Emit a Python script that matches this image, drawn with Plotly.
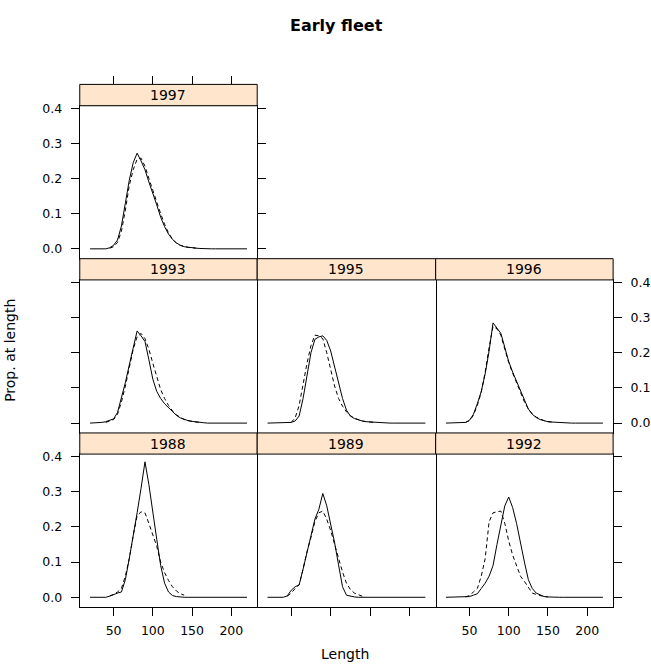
import plotly.graph_objects as go

# ---------------- data ----------------
length = [20, 25, 30, 35, 40, 45, 50, 55, 60, 65, 70, 75, 80, 85, 90, 95, 100, 105, 110, 115,
          120, 125, 130, 135, 140, 145, 150, 155, 160, 165, 170, 175, 180, 185, 190, 195, 200,
          205, 210, 215, 220]

panel_years = ["1997", "1993", "1995", "1996", "1988", "1989", "1992"]

obs_1997 = [0, 0, 0, 0, 0, 0.003, 0.01, 0.025, 0.065, 0.13, 0.195, 0.245, 0.272, 0.25, 0.225,
            0.19, 0.16, 0.125, 0.09, 0.063, 0.042, 0.027, 0.017, 0.01, 0.006, 0.004, 0.003,
            0.002, 0.001, 0, 0, 0, 0, 0, 0, 0, 0, 0, 0, 0, 0]
fit_1997 = [None, None, None, None, None, 0.002, 0.006, 0.018, 0.05, 0.11, 0.18, 0.225, 0.255,
            0.258, 0.235, 0.2, 0.165, 0.13, 0.1, 0.07, 0.045, 0.028, 0.016, 0.01, 0.006, 0.004,
            0.003, 0.002, None, None, None, None, None, None, None, None, None, None, None,
            None, None]

obs_1993 = [0, 0, 0.001, 0.002, 0.004, 0.007, 0.012, 0.03, 0.07, 0.115, 0.165, 0.215, 0.262,
            0.248, 0.232, 0.18, 0.125, 0.09, 0.07, 0.055, 0.043, 0.032, 0.022, 0.015, 0.01,
            0.007, 0.005, 0.003, 0.002, 0.001, 0, 0, 0, 0, 0, 0, 0, 0, 0, 0, 0]
fit_1993 = [None, None, None, None, 0.002, 0.005, 0.01, 0.025, 0.06, 0.105, 0.16, 0.21, 0.245,
            0.255, 0.24, 0.21, 0.17, 0.13, 0.095, 0.07, 0.05, 0.035, 0.024, 0.016, 0.01, 0.007,
            0.004, 0.003, 0.002, None, None, None, None, None, None, None, None, None, None,
            None, None]

obs_1995 = [0, 0, 0, 0, 0, 0, 0.002, 0.006, 0.02, 0.07, 0.14, 0.2, 0.238, 0.245, 0.248, 0.235,
            0.205, 0.16, 0.11, 0.07, 0.037, 0.02, 0.013, 0.009, 0.006, 0.004, 0.003, 0.002,
            0.001, 0, 0, 0, 0, 0, 0, 0, 0, 0, 0, 0, 0]
fit_1995 = [None, None, None, None, None, None, 0.002, 0.015, 0.05, 0.115, 0.17, 0.22, 0.25,
            0.248, 0.24, 0.2, 0.15, 0.105, 0.07, 0.048, 0.032, 0.021, 0.014, 0.009, 0.006,
            0.004, 0.003, 0.002, None, None, None, None, None, None, None, None, None, None,
            None, None, None]

obs_1996 = [0, 0, 0, 0, 0, 0.002, 0.008, 0.025, 0.055, 0.09, 0.14, 0.205, 0.285, 0.27, 0.255,
            0.215, 0.175, 0.145, 0.118, 0.09, 0.062, 0.04, 0.025, 0.016, 0.01, 0.006, 0.004,
            0.003, 0.002, 0.001, 0, 0, 0, 0, 0, 0, 0, 0, 0, 0, 0]
fit_1996 = [None, None, None, None, None, 0.002, 0.007, 0.022, 0.05, 0.088, 0.145, 0.215, 0.275,
            0.268, 0.25, 0.21, 0.172, 0.142, 0.115, 0.088, 0.06, 0.04, 0.026, 0.017, 0.011,
            0.007, 0.004, 0.003, None, None, None, None, None, None, None, None, None, None,
            None, None, None]

obs_1988 = [0, 0, 0, 0, 0, 0.003, 0.008, 0.012, 0.015, 0.05, 0.11, 0.17, 0.24, 0.31, 0.385,
            0.32, 0.238, 0.165, 0.09, 0.04, 0.015, 0.005, 0.002, 0, 0, 0, 0, 0, 0, 0, 0, 0, 0,
            0, 0, 0, 0, 0, 0, 0, 0]
fit_1988 = [None, None, None, None, None, 0.004, 0.008, 0.015, 0.025, 0.06, 0.11, 0.175, 0.232,
            0.243, 0.24, 0.21, 0.18, 0.145, 0.1, 0.07, 0.048, 0.03, 0.018, 0.01, 0.006, None,
            None, None, None, None, None, None, None, None, None, None, None, None, None, None,
            None]

obs_1989 = [0, 0, 0, 0, 0, 0.004, 0.02, 0.03, 0.035, 0.08, 0.13, 0.175, 0.222, 0.25, 0.295,
            0.26, 0.21, 0.155, 0.092, 0.03, 0.006, 0.003, 0.001, 0, 0, 0, 0, 0, 0, 0, 0, 0, 0,
            0, 0, 0, 0, 0, 0, 0, 0]
fit_1989 = [None, None, None, None, None, 0.003, 0.012, 0.025, 0.035, 0.08, 0.13, 0.17, 0.215,
            0.24, 0.245, 0.222, 0.19, 0.15, 0.11, 0.072, 0.04, 0.022, 0.012, 0.007, 0.003, None,
            None, None, None, None, None, None, None, None, None, None, None, None, None, None,
            None]

obs_1992 = [0, 0, 0, 0, 0, 0, 0.002, 0.006, 0.01, 0.025, 0.04, 0.06, 0.09, 0.15, 0.21, 0.26,
            0.285, 0.255, 0.21, 0.15, 0.1, 0.05, 0.025, 0.012, 0.006, 0.002, 0.001, 0, 0, 0, 0,
            0, 0, 0, 0, 0, 0, 0, 0, 0, 0]
fit_1992 = [None, None, None, None, None, 0.001, 0.005, 0.015, 0.025, 0.06, 0.11, 0.215, 0.24,
            0.243, 0.245, 0.21, 0.16, 0.12, 0.09, 0.06, 0.045, 0.03, 0.012, 0.008, 0.004, 0.002,
            0.001, None, None, None, None, None, None, None, None, None, None, None, None, None,
            None]

x_ticks = [50, 100, 150, 200]
y_ticks = [0.0, 0.1, 0.2, 0.3, 0.4]

observed = [obs_1997, obs_1993, obs_1995, obs_1996, obs_1988, obs_1989, obs_1992]
fitted = [fit_1997, fit_1993, fit_1995, fit_1996, fit_1988, fit_1989, fit_1992]

# ---------------- layout geometry (pixels) ----------------
W, H = 651, 664
cols = [(80, 258), (258, 437), (437, 615)]
rows = [(80, 101.5, 255.6), (255.6, 277, 431.2), (431.2, 452.5, 606.7)]
positions = [(0, 0), (1, 0), (1, 1), (1, 2), (2, 0), (2, 1), (2, 2)]
XR = [6.9, 233]
YR = [-0.028, 0.407]
FONT = "DejaVu Sans"
TICKFONT = dict(family=FONT, size=12.5, color="black")


def fx(p):
    return p / W


def fy(p):
    return 1 - p / H


fig = go.Figure()
layout = dict(
    width=W, height=H,
    margin=dict(l=0, r=0, t=0, b=0),
    paper_bgcolor="white", plot_bgcolor="white",
    showlegend=False,
)
shapes = []
annotations = []

for i, (year, (r, c)) in enumerate(zip(panel_years, positions)):
    n = i + 1
    sfx = "" if n == 1 else str(n)
    fig.add_trace(go.Scatter(x=length, y=observed[i], mode="lines",
                             line=dict(color="black", width=1),
                             xaxis="x" + sfx, yaxis="y" + sfx, name="observed"))
    fig.add_trace(go.Scatter(x=length, y=fitted[i], mode="lines",
                             line=dict(color="black", width=1, dash="4px,3px"),
                             connectgaps=False,
                             xaxis="x" + sfx, yaxis="y" + sfx, name="fitted"))
    c0, c1 = cols[c]
    st, pt, pb = rows[r]
    bottom_ticks = (r == 2)
    layout["xaxis" + sfx] = dict(
        domain=[fx(c0), fx(c1)], anchor="y" + sfx, range=XR,
        tickvals=x_ticks, showgrid=False, zeroline=False,
        showline=True, linecolor="black", linewidth=1, mirror=True,
        ticks="outside" if bottom_ticks else "", ticklen=8, tickcolor="black",
        tickwidth=1, showticklabels=bottom_ticks and c in (0, 2),
        tickfont=TICKFONT, ticklabelstandoff=4,
    )
    left_side = (c == 0)
    right_side = (c == 2)
    if c == 0:
        mirror = "ticks" if r == 0 else True
        side = "left"
    else:
        mirror = False
        side = "right"
    layout["yaxis" + sfx] = dict(
        domain=[fy(pb), fy(pt)], anchor="x" + sfx, range=YR,
        tickvals=y_ticks, tickformat=".1f", showgrid=False, zeroline=False,
        showline=True, linecolor="black", linewidth=1,
        mirror=mirror, side=side,
        ticks="outside" if (left_side or right_side) else "", ticklen=8,
        tickcolor="black", tickwidth=1,
        showticklabels=(left_side and r in (0, 2)) or (right_side and r == 1),
        tickfont=TICKFONT, ticklabelstandoff=6,
    )
    shapes.append(dict(type="rect", xref="paper", yref="paper",
                       x0=fx(c0), x1=fx(c1), y0=fy(pt), y1=fy(st),
                       fillcolor="#FFE5CC", line=dict(color="black", width=1),
                       layer="above"))
    annotations.append(dict(text=year, xref="paper", yref="paper",
                            x=fx((c0 + c1) / 2), y=fy((st + pt) / 2),
                            xanchor="center", yanchor="middle", showarrow=False,
                            font=dict(family=FONT, size=14, color="black")))

# top tick marks above the 1997 strip
fig.add_trace(go.Scatter(x=[None], y=[None], xaxis="x8", yaxis="y", showlegend=False))
layout["xaxis8"] = dict(
    domain=[fx(cols[0][0]), fx(cols[0][1])], anchor="free", position=fy(80),
    overlaying="x", side="top", range=XR, tickvals=x_ticks, showgrid=False,
    zeroline=False, showline=False, ticks="outside", ticklen=8, tickcolor="black",
    tickwidth=1, showticklabels=False,
)

annotations.append(dict(text="<b>Early fleet</b>", xref="paper", yref="paper",
                        x=fx(337.5), y=fy(21), xanchor="center", yanchor="middle",
                        showarrow=False, font=dict(family=FONT, size=16, color="black")))
annotations.append(dict(text="Length", xref="paper", yref="paper",
                        x=fx(346), y=fy(654), xanchor="center", yanchor="middle",
                        showarrow=False, font=dict(family=FONT, size=14, color="black")))
annotations.append(dict(text="Prop. at length", xref="paper", yref="paper",
                        x=fx(10), y=fy(347.5), xanchor="center", yanchor="middle",
                        textangle=-90, showarrow=False,
                        font=dict(family=FONT, size=14, color="black")))

layout["shapes"] = shapes
layout["annotations"] = annotations
fig.update_layout(**layout)
fig.write_html("out.html", config={"displayModeBar": False},
               post_script="document.body.style.margin='0';document.body.style.padding='0';")
